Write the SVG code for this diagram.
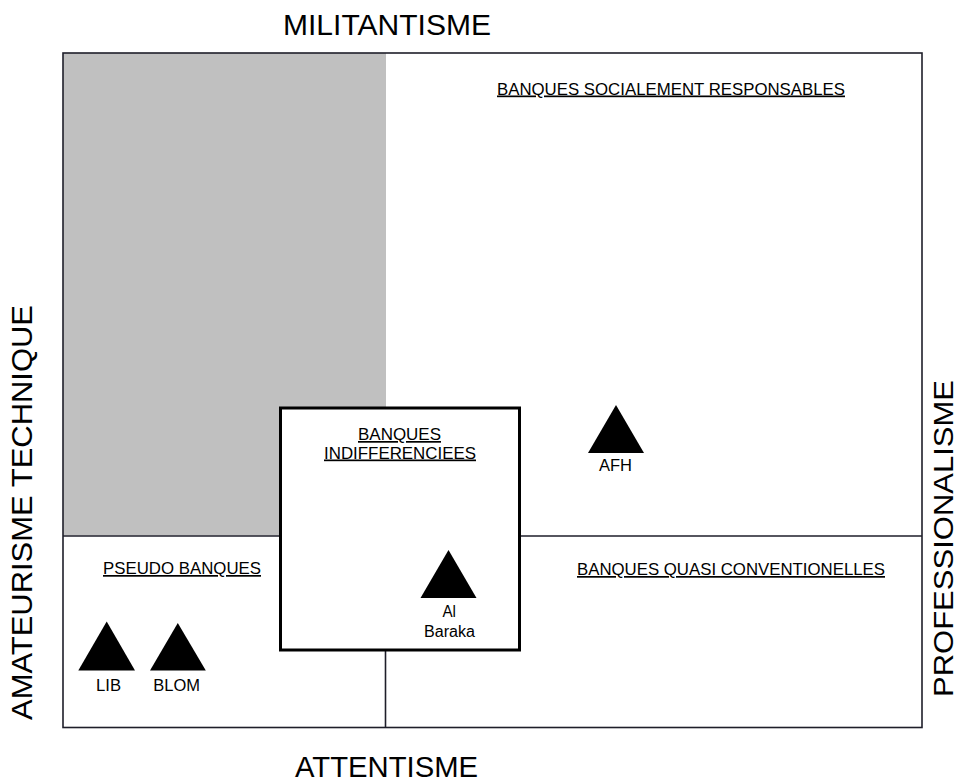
<svg xmlns="http://www.w3.org/2000/svg" width="959" height="782" viewBox="0 0 959 782">
<style>
text{font-family:"Liberation Sans",Arial,sans-serif;fill:#000}
.big{font-size:29.5px}
.hd{font-size:17px;text-decoration:underline}
.lb{font-size:16px}
.ln{stroke:#1e1e2a;stroke-width:1.6;fill:none}
.tri{fill:#000}
</style>
<rect width="959" height="782" fill="#fff"/>
<g id="axes">
<text class="big" x="387" y="35" text-anchor="middle" textLength="208" lengthAdjust="spacingAndGlyphs">MILITANTISME</text>
<text class="big" x="386.5" y="777" text-anchor="middle" textLength="183" lengthAdjust="spacingAndGlyphs">ATTENTISME</text>
<text class="big" transform="translate(32,512.5) rotate(-90)" text-anchor="middle" textLength="415" lengthAdjust="spacingAndGlyphs">AMATEURISME TECHNIQUE</text>
<text class="big" style="font-size:28.5px" transform="translate(953,538.5) rotate(-90)" text-anchor="middle" textLength="317" lengthAdjust="spacingAndGlyphs">PROFESSIONALISME</text>
</g>
<g id="frame">
<rect x="63" y="53" width="323" height="482.5" fill="#c0c0c0"/>
<rect class="ln" x="63" y="53" width="859" height="674.5"/>
<line class="ln" x1="63" y1="536" x2="922" y2="536"/>
<line class="ln" x1="385.5" y1="650" x2="385.5" y2="727.5"/>
</g>
<g id="quadrant-sociales">
<text class="hd" x="497" y="94.5" textLength="348" lengthAdjust="spacingAndGlyphs">BANQUES SOCIALEMENT RESPONSABLES</text>
</g>
<g id="quadrant-pseudo">
<text class="hd" x="103" y="574" textLength="158" lengthAdjust="spacingAndGlyphs">PSEUDO BANQUES</text>
</g>
<g id="quadrant-quasi">
<text class="hd" x="577" y="575" textLength="308" lengthAdjust="spacingAndGlyphs">BANQUES QUASI CONVENTIONELLES</text>
</g>
<g id="indifferenciees">
<rect x="280.5" y="408" width="239" height="242" fill="#fff" stroke="#000" stroke-width="3"/>
<text class="hd" x="358" y="440" textLength="83" lengthAdjust="spacingAndGlyphs">BANQUES</text>
<text class="hd" x="324" y="458.5" textLength="152" lengthAdjust="spacingAndGlyphs">INDIFFERENCIEES</text>
</g>
<g id="afh">
<polygon class="tri" points="616,405 644,453 588,453"/>
<text class="lb" x="599" y="471" textLength="33" lengthAdjust="spacingAndGlyphs">AFH</text>
</g>
<g id="albaraka">
<polygon class="tri" points="448.5,550 476.5,598 420.5,598"/>
<text class="lb" x="442.5" y="617" textLength="13.5" lengthAdjust="spacingAndGlyphs">Al</text>
<text class="lb" x="424" y="637" textLength="51" lengthAdjust="spacingAndGlyphs">Baraka</text>
</g>
<g id="lib">
<polygon class="tri" points="106.7,621.5 135,670.5 78.3,670.5"/>
<text class="lb" x="96" y="691" textLength="25" lengthAdjust="spacingAndGlyphs">LIB</text>
</g>
<g id="blom">
<polygon class="tri" points="177.8,623 205.8,670.5 150,670.5"/>
<text class="lb" x="153.3" y="691" textLength="46.7" lengthAdjust="spacingAndGlyphs">BLOM</text>
</g>
</svg>
